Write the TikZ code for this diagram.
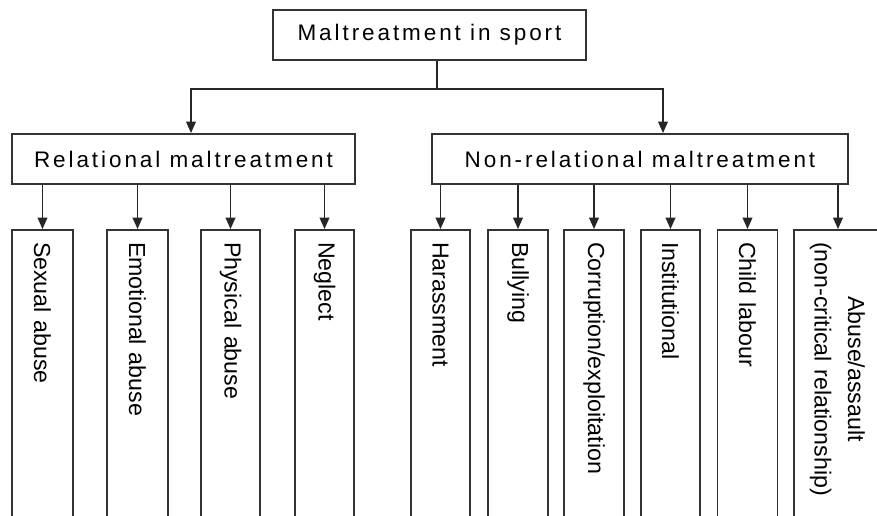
\documentclass[tikz,border=0pt]{standalone}
\usepackage{fontspec}
\setmainfont{Liberation Sans}
\newfontfamily\widefont[LetterSpace=13]{Liberation Sans}
\usetikzlibrary{arrows.meta}

\begin{document}
\begin{tikzpicture}[x=0.02cm, y=-0.02cm, thick]
    \tikzstyle{head} = [draw=black!80, line width=1.1pt, inner sep=0pt, minimum height=1cm, font=\widefont\fontsize{12.8}{15}\selectfont]
    \tikzstyle{leaf} = [draw=black!80, line width=1.1pt, rotate=-90, minimum width=6cm, inner xsep=0.24cm, text width=5.52cm, align=left, font=\fontsize{13.2}{19}\selectfont]
    \tikzstyle{link} = [-{Triangle[length=6.5pt,width=5.5pt]}, line width=0.9pt, black!85]
    \useasboundingbox (0,0) rectangle (877,515);
    \clip (0,0) rectangle (877,515);
    % top levels
    \node[head, minimum width=6.26cm] (M) at (429.5,35) {Maltreatment in sport};
    \node[head, minimum width=6.86cm] (R) at (183.5,159) {Relational maltreatment};
    \node[head, minimum width=8.32cm] (N) at (640,159) {Non-relational maltreatment};
    % relational forms
    \node[leaf, minimum height=1.22cm] (sex) at (42.5,380) {Sexual abuse};
    \node[leaf, minimum height=1.22cm] (emo) at (137.5,380) {Emotional abuse};
    \node[leaf, minimum height=1.18cm] (phy) at (230.5,380) {Physical abuse};
    \node[leaf, minimum height=1.18cm] (neg) at (324.5,380) {Neglect};
    % non-relational forms
    \node[leaf, minimum height=1.18cm] (har) at (440.5,380) {Harassment};
    \node[leaf, minimum height=1.2cm] (bul) at (518,380) {Bullying};
    \node[leaf, minimum height=1.2cm] (cor) at (594,380) {Corruption/exploitation};
    \node[leaf, minimum height=1.18cm] (ins) at (670.5,380) {Institutional};
    \node[leaf, minimum height=1.2cm] (chi) at (747.5,380) {Child labour};
    \node[leaf, minimum height=1.76cm] (ass) at (838,380)
        {\begin{tabular}{@{}c@{}}Abuse/assault\\(non-critical relationship)\end{tabular}};
    % connectors
    \coordinate (fork) at (437,89);
    \draw[link, -] (M.south -| fork) -- (fork);
    \draw[link] (fork) -| ([xshift=0.15cm]R.north);
    \draw[link] (fork) -| ([xshift=0.46cm]N.north);
    \foreach \leaf in {sex,emo,phy,neg}
        \draw[link] (R.south -| \leaf.west) -- (\leaf.west);
    \foreach \leaf in {har,bul,cor,ins,chi,ass}
        \draw[link] (N.south -| \leaf.west) -- (\leaf.west);
\end{tikzpicture}
\end{document}
